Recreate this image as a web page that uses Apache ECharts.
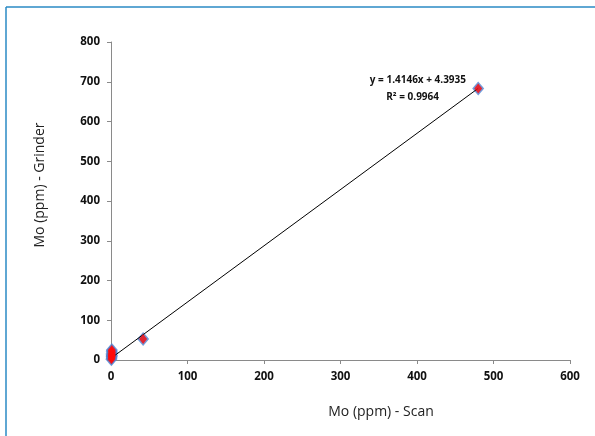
<!DOCTYPE html>
<html>
<head>
<meta charset="utf-8">
<script src="https://cdn.jsdelivr.net/npm/echarts@6/dist/echarts.min.js"></script>
<style>
  html, body { margin: 0; padding: 0; background: #fff; }
  #chart { width: 595px; height: 436px; }
</style>
</head>
<body>
<div id="chart"></div>
<script>
// Mo (ppm): scan vs grinder
const scanValues = [0.5, 0.8, 1.0, 1.2, 0.6, 1.4, 0.9, 1.1, 0.7, 42, 480]
const grinderValues = [2, 5, 8, 12, 15, 18, 22, 25, 10, 53, 683]
const trendSlope = 1.4146
const trendIntercept = 4.3935
const trendR2 = 0.9964
const trendRange = [0, 480]
const xTicks = [0, 100, 200, 300, 400, 500, 600]
const yTicks = [0, 100, 200, 300, 400, 500, 600, 700, 800]
const xTitle = 'Mo (ppm) - Scan'
const yTitle = 'Mo (ppm) - Grinder'

const points = scanValues.map((x, i) => [x, grinderValues[i]])
const trendPoints = trendRange.map((x) => [x, trendSlope * x + trendIntercept])

const font = 'Open Sans, Liberation Sans, sans-serif'
const axisGray = '#8a8a8a'
const frameBlue = '#2a8ac4'

const chart = echarts.init(document.getElementById('chart'))

const axisCommon = {
  type: 'value',
  axisLine: { show: true, lineStyle: { color: axisGray, width: 1 } },
  axisTick: { show: true, length: 4, lineStyle: { color: axisGray } },
  axisLabel: { fontFamily: font, fontSize: 11.5, fontWeight: 'bold', color: '#111', margin: 11 },
  splitLine: { show: false },
}

chart.setOption({
  animation: false,
  grid: { left: 111, right: 25, top: 42, bottom: 76 },
  xAxis: {
    ...axisCommon,
    min: xTicks[0],
    max: xTicks[xTicks.length - 1],
    interval: xTicks[1] - xTicks[0],
  },
  yAxis: {
    ...axisCommon,
    min: yTicks[0],
    max: yTicks[yTicks.length - 1],
    interval: yTicks[1] - yTicks[0],
  },
  graphic: [
    { type: 'line', shape: { x1: 6, y1: 7, x2: 6, y2: 436 }, style: { stroke: frameBlue, lineWidth: 1.5 } },
    { type: 'line', shape: { x1: 6, y1: 7, x2: 595, y2: 7 }, style: { stroke: frameBlue, lineWidth: 1.5 } },
    // 轴标题
    {
      type: 'text',
      x: 381,
      y: 412,
      style: { text: xTitle, align: 'center', verticalAlign: 'middle', fontFamily: font, fontSize: 14, fill: '#222' },
    },
    {
      type: 'text',
      x: 40,
      y: 185,
      rotation: Math.PI / 2,
      style: { text: yTitle, align: 'center', verticalAlign: 'middle', fontFamily: font, fontSize: 14, fill: '#222' },
    },
    // 趋势线公式
    {
      type: 'text',
      x: 466,
      y: 80,
      style: {
        text: 'y = ' + trendSlope + 'x + ' + trendIntercept,
        align: 'right',
        verticalAlign: 'middle',
        fontFamily: font,
        fontSize: 10,
        fontWeight: 'bold',
        fill: '#111',
      },
    },
    {
      type: 'text',
      x: 439,
      y: 97,
      style: {
        text: 'R² = ' + trendR2,
        align: 'right',
        verticalAlign: 'middle',
        fontFamily: font,
        fontSize: 10,
        fontWeight: 'bold',
        fill: '#111',
      },
    },
  ],
  series: [
    {
      type: 'line',
      data: trendPoints,
      symbol: 'none',
      lineStyle: { color: '#000', width: 1 },
      z: 3,
    },
    {
      type: 'scatter',
      data: points,
      symbol: 'diamond',
      symbolSize: [12, 14],
      itemStyle: { color: '#4f81d0' },
      z: 2,
    },
    {
      type: 'scatter',
      data: points,
      symbol: 'diamond',
      symbolSize: [8, 10],
      itemStyle: { color: '#ff0a0a' },
      z: 4,
    },
  ],
})
</script>
</body>
</html>
